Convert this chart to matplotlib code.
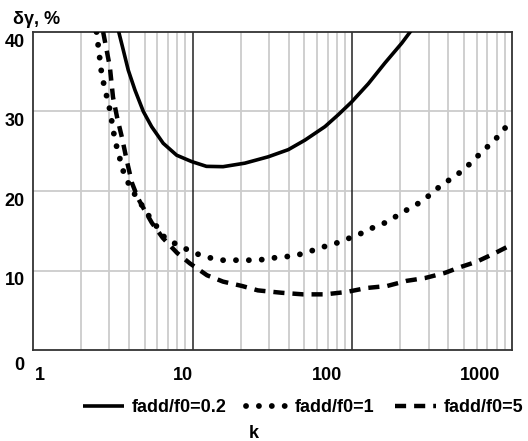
import matplotlib
matplotlib.use("Agg")
import matplotlib.pyplot as plt
import matplotlib.transforms as mtransforms
from matplotlib.ticker import FixedLocator, NullFormatter

plt.rcParams['font.family'] = ['Liberation Sans', 'DejaVu Sans']
plt.rcParams['font.weight'] = 'bold'

# error curves, delta-gamma (%) versus k
k_02 = [3.42, 3.68, 3.95, 4.35, 4.91, 5.53, 6.54, 7.94, 9.86, 12.2, 15.5, 21.2, 29.7, 39.7,
        50.5, 67.4, 81.7, 99, 126, 160, 204, 235]
dg_02 = [40.25, 37.7, 35.2, 32.7, 30.0, 28.1, 26.0, 24.5, 23.7, 23.1, 23.06, 23.5, 24.3, 25.2,
         26.4, 28.1, 29.6, 31.2, 33.5, 36.1, 38.6, 40.25]

k_1 = [2.5, 2.7, 3.03, 3.26, 3.66, 4.05, 4.67, 5.17, 5.97, 6.7, 7.75, 9.1, 10.6, 12.8, 15.5, 19.2,
       23.8, 28.8, 34.7, 42.4, 50.5, 60, 71.5, 84.5, 99, 118, 138, 165, 198, 232, 273, 318, 369,
       438, 524, 610, 705, 803, 930, 1000]
dg_1 = [40, 34.5, 30.2, 26.4, 22.6, 20.5, 18.6, 17.2, 15.5, 14.1, 13.4, 12.7, 12.1, 11.6, 11.3, 11.3,
        11.3, 11.4, 11.7, 11.8, 12.2, 12.7, 13.2, 13.6, 14.2, 14.8, 15.5, 16.1, 17.1, 17.9, 18.7, 19.8, 20.9,
        21.8, 23.1, 24.4, 25.6, 26.7, 28.2, 28.8]

k_5 = [2.75, 3.03, 3.17, 3.36, 3.6, 3.9, 4.17, 4.54, 4.9, 5.55, 6.5, 8.0, 9.6, 12.3, 15.5, 20.4,
       25.6, 36, 49, 67.5, 92, 123, 165, 219, 285, 380, 470, 600, 785, 940, 1000]
dg_5 = [40, 35.6, 31.8, 29.3, 26.8, 23.5, 21.0, 19.1, 17.9, 16.0, 14.1, 12.2, 10.9, 9.4, 8.6, 8.05,
        7.5, 7.2, 7.0, 7.0, 7.3, 7.8, 8.05, 8.7, 9.05, 9.7, 10.4, 11.1, 12.2, 13.0, 13.2]

x_major = [1, 10, 100, 1000]
x_labels = ['1', '10', '100', '1000']
y_major = [0, 10, 20, 30, 40]
y_labels = ['0', '10', '20', '30', '40']
series_labels = ['fadd/f0=0.2', 'fadd/f0=1', 'fadd/f0=5']

fig = plt.figure(figsize=(5.28, 4.41), dpi=100)
ax = fig.add_axes([33 / 528, 1 - 350 / 441, 479 / 528, 318 / 441])

ax.set_xscale('log')
ax.set_xlim(1, 1000)
ax.set_ylim(0, 40)

# grid: light grey minor lines, dark major verticals
minor = [m * d for d in (1, 10, 100) for m in range(2, 10)]
for xv in minor:
    ax.axvline(xv, color='#cccccc', lw=1.3, zorder=0)
for xv in x_major[1:-1]:
    ax.axvline(xv, color='#222222', lw=1.1, zorder=1)
for yv in y_major[1:-1]:
    ax.axhline(yv, color='#cccccc', lw=1.3, zorder=0)

ax.plot(k_02, dg_02, color='black', lw=2.6, solid_capstyle='butt', solid_joinstyle='round',
        zorder=3, label=series_labels[0])
ax.plot(k_1, dg_1, color='black', lw=4.2, linestyle=(0, (0.01, 2.2)),
        dash_capstyle='round', zorder=3, label=series_labels[1])
ax.plot(k_5, dg_5, color='black', lw=3.2, linestyle=(0, (2.5, 1.8)),
        dash_capstyle='butt', zorder=3, label=series_labels[2])

for s in ax.spines.values():
    s.set_color('#333333')
    s.set_linewidth(1.3)

ax.xaxis.set_major_locator(FixedLocator(x_major))
ax.xaxis.set_minor_formatter(NullFormatter())
ax.set_xticks(x_major, x_labels)
ax.set_yticks(y_major, y_labels)
ax.tick_params(axis='both', which='both', length=0, labelsize=13)
ax.tick_params(axis='x', pad=12)
ax.tick_params(axis='y', pad=6)

# label offsets (points): x labels shifted horizontally, y labels dropped below grid lines
x_shift = [5, -7, -18, -23]
for lab, dx in zip(ax.get_xticklabels(), x_shift):
    lab.set_transform(lab.get_transform() + mtransforms.ScaledTranslation(dx / 72, 0, fig.dpi_scale_trans))
y_shift = [-10, -6, -6, -6, -6]
for lab, dy in zip(ax.get_yticklabels(), y_shift):
    lab.set_transform(lab.get_transform() + mtransforms.ScaledTranslation(0, dy / 72, fig.dpi_scale_trans))

fig.text(13 / 528, 1 - 20 / 441, 'δγ, %', fontsize=13, fontweight='bold', va='center', ha='left')
fig.text(254 / 528, 1 - 433 / 441, 'k', fontsize=13, fontweight='bold', va='center', ha='center')

fig.legend(loc='center', bbox_to_anchor=(303 / 528, 1 - 408 / 441), ncol=3, frameon=False,
           fontsize=13, handlelength=2.3, handletextpad=0.4, columnspacing=1.1,
           borderaxespad=0, borderpad=0)

fig.savefig('out.png', dpi=100)
